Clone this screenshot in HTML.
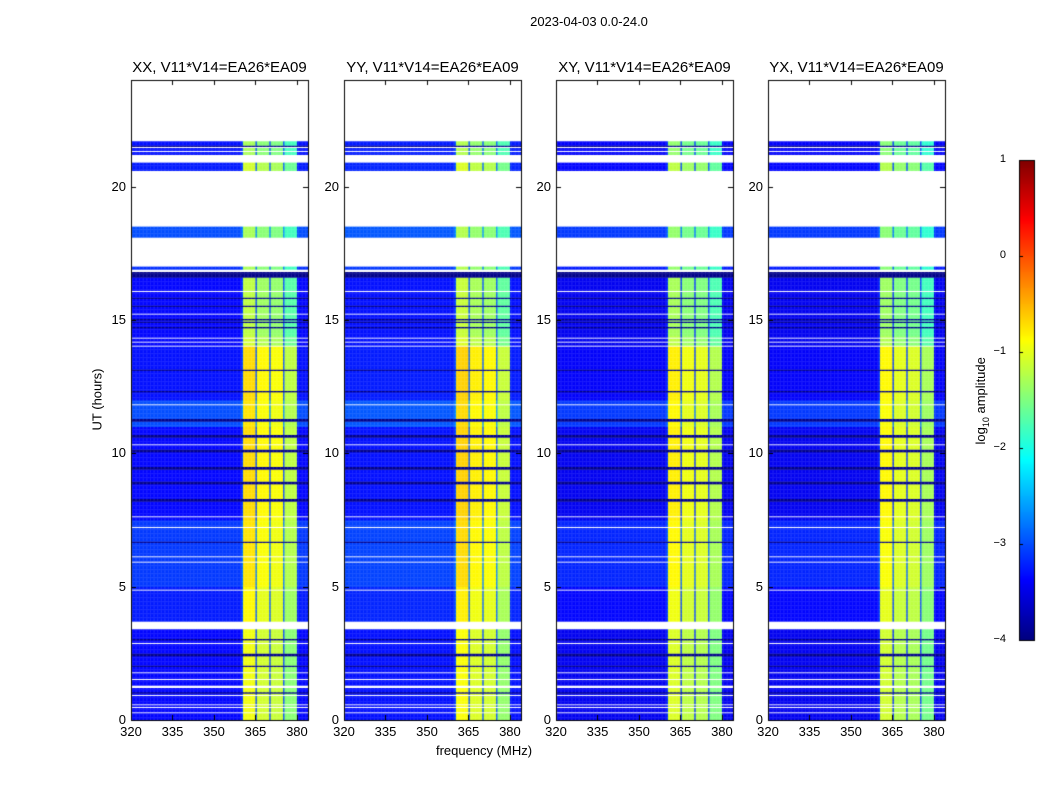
<!DOCTYPE html>
<html><head><meta charset="utf-8">
<style>
body{margin:0;background:#fff;width:1050px;height:800px;overflow:hidden;font-family:"Liberation Sans",sans-serif;}
#root{position:relative;width:1050px;height:800px;}
canvas{position:absolute;left:0;top:0;}
.t{position:absolute;white-space:nowrap;color:#000;}
</style></head>
<body>
<div id="root">
<canvas id="cv" width="1050" height="800"></canvas>
<div class="t" style="left:489px;top:14px;width:200px;text-align:center;font-size:13px;">2023-04-03 0.0-24.0</div>
<div class="t" style="left:384px;top:743px;width:200px;text-align:center;font-size:13px;">frequency (MHz)</div>
<div class="t" style="left:47px;top:392px;width:100px;text-align:center;font-size:13px;transform:rotate(-90deg);">UT (hours)</div>
<div class="t" style="left:932px;top:392px;width:100px;text-align:center;font-size:13px;transform:rotate(-90deg);">log<sub style="font-size:9px">10</sub> amplitude</div>
<div id="labels"></div>
</div>
<script>
const panelTitles=["XX, V11*V14=EA26*EA09","YY, V11*V14=EA26*EA09","XY, V11*V14=EA26*EA09","YX, V11*V14=EA26*EA09"];
const panelLefts=[131,344,556,768];
const xTicks=[320,335,350,365,380];
const yTicks=[0,5,10,15,20];
const cbTicks=[1,0,-1,-2,-3,-4];
const spwStart=[360.5,365.3,370.3,375.3];
const spwEnd=[364.8,369.8,374.8,379.8];
const spwLevels=[[-0.8,-0.95,-1.0,-1.3],[-0.75,-0.9,-0.95,-1.25],[-0.9,-1.05,-1.1,-1.35],[-0.95,-1.1,-1.15,-1.4]];
const bgLevels=[-3.35,-3.3,-3.45,-3.45];
const segments=[[0,3.4,0,-0.15],[3.7,5.0,0.1,-0.05],[5,7.5,0.25,0.05],[7.5,11.0,0,0.1],[11.0,12.0,0.35,0.05],[12,14,0.05,0.1],[14.05,14.15,0,-0.3],[14.2,14.3,0,-0.3],[14.35,14.4,0,-0.3],[14.4,16.6,0,-0.4],[16.9,17.0,0.2,-0.5],[18.1,18.5,0.35,-0.5],[20.6,20.9,0.1,-0.3],[21.2,21.7,0.05,-0.5]];
const flags=[[3.4,3.7],[2.85,2.92],[1.74,1.79],[2.08,2.12],[1.52,1.57],[1.22,1.32],[0.88,0.93],[0.54,0.58],[0.47,0.5],[0.24,0.28],[4.85,4.9],[5.88,5.93],[6.08,6.13],[7.18,7.23],[7.58,7.63],[10.18,10.22],[10.3,10.34],[11.78,11.83],[14.0,14.05],[14.15,14.2],[14.3,14.35],[15.2,15.25],[16.05,16.1],[16.8,16.9],[17.0,18.1],[18.5,20.6],[20.9,21.2],[21.7,24],[21.3,21.33],[21.45,21.48],[21.58,21.61]];
const darkRows=[[11.22,11.28],[10.62,10.68],[10.07,10.13],[9.42,9.48],[8.87,8.93],[8.22,8.28],[6.67,6.72],[5.18,5.22],[4.38,4.42],[4.13,4.17],[2.4,2.5],[16.6,16.8],[15.5,15.55],[15.0,15.05],[14.7,14.75],[14.9,14.95],[15.8,15.85],[13.1,13.15],[12.3,12.35],[2.0,2.05],[1.0,1.05],[3.0,3.05],[21.38,21.41],[21.52,21.55]];

const PW=177,TOP=80,PH=640,F0=320,F1=384,T0=0,T1=24,VMIN=-4,VMAX=1;
const cv=document.getElementById('cv'),ctx=cv.getContext('2d');
const xs=(f,l)=>l+(f-F0)/(F1-F0)*PW;
const ys=t=>TOP+PH-(t-T0)/(T1-T0)*PH;
function cl(v){return Math.max(0,Math.min(1,v));}
function jet(v){const t=cl((v-VMIN)/(VMAX-VMIN));
 return 'rgb('+Math.round(255*cl(1.5-Math.abs(4*t-3)))+','+Math.round(255*cl(1.5-Math.abs(4*t-2)))+','+Math.round(255*cl(1.5-Math.abs(4*t-1)))+')';}
const inAny=(arr,t)=>arr.some(r=>t>=r[0]&&t<r[1]);
const dt=0.05,df=0.5;
panelLefts.forEach((L,p)=>{
 for(let t=T0;t<T1;t+=dt){
  const tm=t+dt/2;
  if(inAny(flags,tm))continue;
  const dark=inAny(darkRows,tm);
  const seg=segments.find(s=>tm>=s[0]&&tm<s[1]);
  if(!dark&&!seg)continue;
  for(let f=F0;f<F1;f+=df){
   const fm=f+df/2;let v;
   const k=spwStart.findIndex((s,i)=>fm>=s&&fm<spwEnd[i]);
   if(dark)v=-3.95;
   else if(k>=0)v=spwLevels[p][k]+seg[3];
   else v=bgLevels[p]+seg[2]+(fm>=360&&fm<380?0.3:0);
   ctx.fillStyle=jet(v);
   const x0=xs(f,L),x1=xs(f+df,L),y0=ys(t+dt),y1=ys(t);
   ctx.fillRect(x0,y0,x1-x0+0.3,y1-y0+0.3);
  }
 }
 ctx.strokeStyle='#000';ctx.lineWidth=1;
 ctx.strokeRect(L+0.5,TOP+0.5,PW,PH);
 xTicks.forEach(v=>{const x=Math.round(xs(v,L))+0.5;ctx.beginPath();ctx.moveTo(x,TOP+PH);ctx.lineTo(x,TOP+PH-5);ctx.moveTo(x,TOP);ctx.lineTo(x,TOP+5);ctx.stroke();});
 yTicks.forEach(v=>{const y=Math.round(ys(v))+0.5;ctx.beginPath();ctx.moveTo(L,y);ctx.lineTo(L+5,y);ctx.moveTo(L+PW,y);ctx.lineTo(L+PW-5,y);ctx.stroke();});
});
const CBX=1019,CBY=160,CBW=15,CBH=480;
for(let i=0;i<CBH;i++){ctx.fillStyle=jet(VMAX-(i+0.5)/CBH*(VMAX-VMIN));ctx.fillRect(CBX,CBY+i,CBW,1);}
ctx.strokeRect(CBX+0.5,CBY+0.5,CBW,CBH);
const lab=document.getElementById('labels');
function addLabel(txt,x,y,w,align,size,name){
 const d=document.createElement('div');d.className='t';
 
 
 d.style.left=x+'px';d.style.top=y+'px';d.style.width=w+'px';d.style.textAlign=align;d.style.fontSize=size+'px';
 d.textContent=txt;lab.appendChild(d);}
panelLefts.forEach((L,p)=>{
 addLabel(panelTitles[p],L-50,59,PW+100,'center',15,'panel-title');
 xTicks.forEach(v=>addLabel(String(v),xs(v,L)-20,724,40,'center',13,'x-tick-label'));
 yTicks.forEach(v=>addLabel(String(v),L-45,ys(v)-8,40,'right',13,'y-tick-label'));
});
cbTicks.forEach(v=>{const y=CBY+(VMAX-v)/(VMAX-VMIN)*CBH;
 ctx.beginPath();ctx.moveTo(CBX,Math.round(y)+0.5);ctx.lineTo(CBX+4,Math.round(y)+0.5);ctx.stroke();
 addLabel(v<0?'\u2212'+(-v):String(v),CBX-35,y-7,22,'right',11,'colorbar-tick-label');});
</script>
</body></html>
